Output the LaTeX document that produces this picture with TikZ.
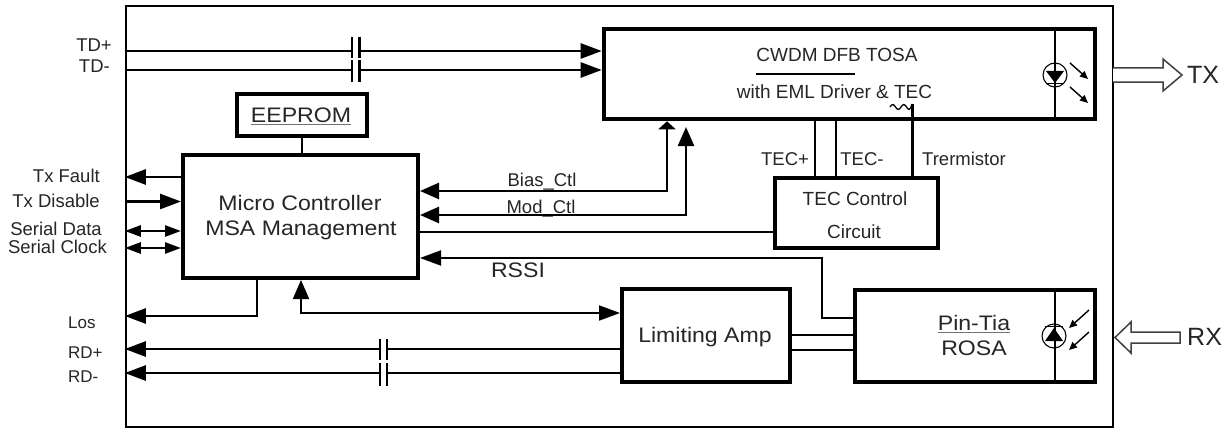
\documentclass[tikz,border=0pt]{standalone}
\usepackage{fontspec}
\setmainfont{Liberation Sans}
\newfontfamily\wfont[FakeStretch=1.1]{Liberation Sans}
\usetikzlibrary{arrows.meta}
\tikzset{
  tri/.tip={Triangle[length=21pt,width=15pt]},
  stri/.tip={Triangle[length=16pt,width=11pt]},
  mtri/.tip={Triangle[length=19pt,width=16pt]},
  btri/.tip={Triangle[length=8pt,width=17pt]},
  ltri/.tip={Triangle[length=8pt,width=7pt]},
  box/.style={draw,line width=4pt,inner sep=0pt},
  sig/.style={line width=2.6pt},
  thinsig/.style={line width=1.9pt},
  inner/.style={line width=1.1pt},
  txt/.style={inner sep=0pt,anchor=base,text=black!85,font=\fontsize{18.5}{20}\selectfont},
  txtw/.style={inner sep=0pt,anchor=base,text=black!85,font=\wfont\fontsize{21}{23}\selectfont},
  hollow/.style={draw=black!75,line width=1.5pt,fill=white,line join=miter},
}
\begin{document}
\begin{tikzpicture}[x=1pt,y=-1pt]
\useasboundingbox (0,0) rectangle (1231,428);
\fill[white] (0,0) rectangle (1231,428);

% frame and blocks
\node[draw,line width=2.4pt,minimum width=987pt,minimum height=421pt,inner sep=0pt] (frame) at (619.5,216.5) {};
\node[box,line width=4.6pt,minimum width=491pt,minimum height=90pt] (tosa) at (849.5,74) {};
\node[box,minimum width=130pt,minimum height=42pt] (eeprom) at (302,115) {};
\node[box,minimum width=235pt,minimum height=123pt] (mc) at (300.5,216.5) {};
\node[box,minimum width=163pt,minimum height=70pt] (tecc) at (856.5,213) {};
\node[box,minimum width=168pt,minimum height=93pt] (la) at (706,335.5) {};
\node[box,minimum width=240pt,minimum height=92pt] (rosa) at (975,336) {};

% texts in blocks
\node[txt,font=\fontsize{19}{21}\selectfont] (t-cwdm) at (837,62) {CWDM DFB TOSA};
\node[txt,font=\fontsize{19}{21}\selectfont] (t-eml) at (834.5,98) {with EML Driver \& TEC};
\draw[line width=2pt] (756,74) -- (855,74);
\node[txtw] (t-ee) at (301,122) {EEPROM};
\draw[line width=1.5pt,black!55] ([yshift=-2.5pt]t-ee.base west) -- ([yshift=-2.5pt]t-ee.base east);
\node[txtw] (t-mc1) at (300,210) {Micro Controller};
\node[txtw] (t-mc2) at (301,235) {MSA Management};
\node[txt,font=\fontsize{19}{21}\selectfont] (t-tec1) at (855,205) {TEC Control};
\node[txt,font=\fontsize{19}{21}\selectfont] (t-tec2) at (854,238) {Circuit};
\node[txtw] (t-la) at (705,342) {Limiting Amp};
\node[txtw] (t-pin) at (974,330) {Pin-Tia};
\draw[line width=1.5pt,black!55] ([yshift=-2.5pt]t-pin.base west) -- ([yshift=-2.5pt]t-pin.base east);
\node[txtw] (t-rosa) at (974,355) {ROSA};

% left labels
\node[txt,anchor=base east] (l-tdp) at (112,52) {TD+};
\node[txt,anchor=base east] (l-tdm) at (110,73) {TD-};
\node[txt,anchor=base east] (l-txf) at (100,182) {Tx Fault};
\node[txt,anchor=base east] (l-txd) at (100,207) {Tx Disable};
\node[txt,anchor=base east] (l-sd) at (102,235) {Serial Data};
\node[txt,anchor=base east] (l-sc) at (107,253) {Serial Clock};
\node[txt,anchor=base west,font=\fontsize{17}{19}\selectfont] (l-los) at (68,328) {Los};
\node[txt,anchor=base west,font=\fontsize{17}{19}\selectfont] (l-rdp) at (68,358) {RD+};
\node[txt,anchor=base west,font=\fontsize{17}{19}\selectfont] (l-rdm) at (68,382) {RD-};

% other labels
\node[txt] (l-bias) at (542,186) {Bias\_Ctl};
\node[txt] (l-mod) at (541,213) {Mod\_Ctl};
\node[txt] (l-tecp) at (785,165) {TEC+};
\node[txt] (l-tecm) at (862,165) {TEC-};
\node[txt,anchor=base west] (l-therm) at (922,165) {Trermistor};
\node[txtw] (l-rssi) at (518,277) {RSSI};
\node[txt,anchor=base west,font=\fontsize{25}{27}\selectfont] (l-tx) at (1187,83) {TX};
\node[txt,anchor=base west,font=\fontsize{25}{27}\selectfont] (l-rx) at (1187,345) {RX};

% TD lines with capacitors
\draw[sig] (frame.west |- 0,51) -- (352,51);
\draw[sig,-tri] (359.5,51) -- (tosa.west |- 0,51);
\draw[sig] (frame.west |- 0,70) -- (352,70);
\draw[sig,-tri] (359.5,70) -- (tosa.west |- 0,70);
\draw[sig] (352,37) -- (352,58) (359.5,37) -- (359.5,58);
\draw[sig] (352,60) -- (352,82) (359.5,60) -- (359.5,82);

% EEPROM to MC
\draw[sig] (eeprom.south) -- (mc.north -| eeprom.south);

% left side MC signals
\draw[sig,-tri] (mc.west |- 0,177) -- (frame.west |- 0,177);
\draw[sig,-tri] (frame.west |- 0,201.5) -- (mc.west |- 0,201.5);
\draw[sig,stri-stri] (frame.west |- 0,231) -- (mc.west |- 0,231);
\draw[sig,stri-stri] (frame.west |- 0,248) -- (mc.west |- 0,248);
\draw[sig,-tri] (mc.south -| 257,0) |- (frame.west |- 0,316);

% RD lines with capacitors
\draw[sig] (la.west |- 0,349) -- (387,349);
\draw[sig,-tri] (380,349) -- (frame.west |- 0,349);
\draw[sig] (la.west |- 0,373) -- (387,373);
\draw[sig,-tri] (380,373) -- (frame.west |- 0,373);
\draw[sig] (380,339) -- (380,360) (387,339) -- (387,360);
\draw[sig] (380,363) -- (380,386) (387,363) -- (387,386);

% MC <-> LA
\draw[thinsig,mtri-tri] (mc.south -| 301,0) |- (la.west |- 0,313);

% Bias / Mod control
\coordinate (modtip) at (686,127);
\draw[sig,mtri-btri] (mc.east |- 0,191) -| (tosa.south -| 667,0);
\draw[sig,mtri-mtri] (mc.east |- 0,215) -| (modtip);

% MC to TEC control
\draw[sig] (mc.east |- 0,232) -- (tecc.west |- 0,232);

% RSSI
\draw[thinsig,-tri] (rosa.west |- 0,318) -| (822,258) -- (mc.east |- 0,258);

% LA to ROSA
\draw[thinsig] (la.east |- 0,335) -- (rosa.west |- 0,335);
\draw[thinsig] (la.east |- 0,350) -- (rosa.west |- 0,350);

% TEC lines
\draw[sig] (tosa.south -| 815,0) -- (tecc.north -| 815,0);
\draw[sig] (tosa.south -| 836,0) -- (tecc.north -| 836,0);
\coordinate (thermtop) at (912.5,104);
\draw[sig] (thermtop) -- (tecc.north -| thermtop);
\draw[line width=1.3pt] (890,107) sin (892.75,104.5) cos (895.5,107) sin (898.25,109.5) cos (901,107)
  sin (903.75,104.5) cos (906.5,107) sin (909.25,109.5) cos (912,104);

% TOSA optics
\draw[inner] (tosa.north -| 1055,0) -- (tosa.south -| 1055,0);
\draw[inner] (1055,75) circle[radius=12];
\fill (1046,71) -- (1064,71) -- (1055,83) -- cycle;
\draw[line width=1.6pt] (1046,83.5) -- (1064,83.5);
\draw[line width=1.4pt,-ltri] (1070,63) -- (1088,79);
\draw[line width=1.4pt,-ltri] (1070,87) -- (1088,103);

% ROSA optics
\draw[inner] (rosa.north -| 1055,0) -- (rosa.south -| 1055,0);
\draw[inner] (1054,336) circle[radius=12];
\fill (1045,341) -- (1063,341) -- (1054,328) -- cycle;
\draw[line width=1.6pt] (1045,326.5) -- (1063,326.5);
\draw[line width=1.4pt,-ltri] (1089,310) -- (1069,328);
\draw[line width=1.4pt,-ltri] (1089,332) -- (1069,350);

% TX / RX hollow arrows
\coordinate (txs) at (1113,68);
\draw[hollow] (txs) -- (1163,68) -- (1163,59) -- (1182,75) -- (1163,91) -- (1163,82) -- (txs |- 0,82);
\coordinate (rxe) at (1180,332);
\draw[hollow] (rxe) -- (1131,332) -- (1131,322) -- (1115,337.5) -- (1131,353) -- (1131,343) -- (rxe |- 0,343) -- cycle;
\end{tikzpicture}
\end{document}
